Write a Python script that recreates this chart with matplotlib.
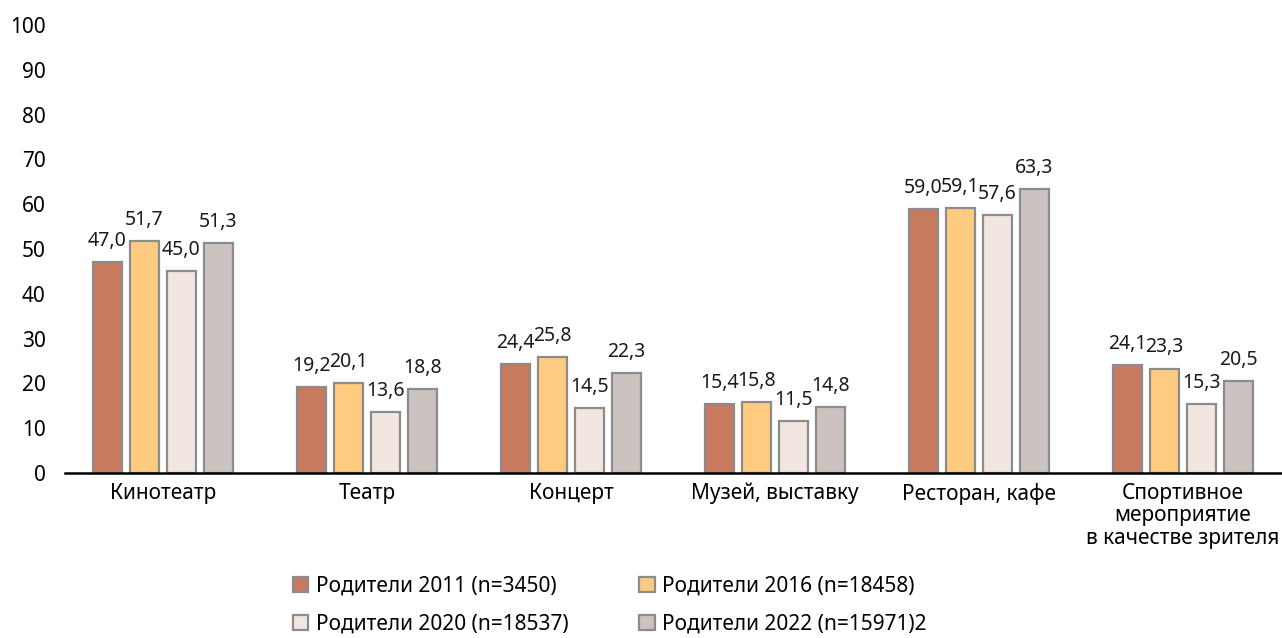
import matplotlib
matplotlib.use("Agg")
import matplotlib.pyplot as plt
import numpy as np

categories = ["Кинотеатр", "Театр", "Концерт", "Музей, выставку", "Ресторан, кафе",
              "Спортивное\nмероприятие\nв качестве зрителя"]
series_names = ["Родители 2011 (n=3450)", "Родители 2016 (n=18458)",
                "Родители 2020 (n=18537)", "Родители 2022 (n=15971)2"]
v2011 = [47.0, 19.2, 24.4, 15.4, 59.0, 24.1]
v2016 = [51.7, 20.1, 25.8, 15.8, 59.1, 23.3]
v2020 = [45.0, 13.6, 14.5, 11.5, 57.6, 15.3]
v2022 = [51.3, 18.8, 22.3, 14.8, 63.3, 20.5]
yticks = [0, 10, 20, 30, 40, 50, 60, 70, 80, 90, 100]

colors = ["#C77A5D", "#FFCB80", "#F2E6E0", "#CCC2C0"]
edge = "#8C8C8C"

plt.rcParams['font.family'] = ['Noto Sans', 'DejaVu Sans']
FS = 15

fig = plt.figure(figsize=(12.82, 6.38), dpi=100)
W, H = 1282, 638
left, right = 65, 1281
y0, y100 = 473, 25
ax = fig.add_axes([left / W, (H - y0) / H, (right - left) / W, (y0 - y100) / H])

x = np.arange(len(categories))
pitch = 0.181
bw = 0.145
data = [v2011, v2016, v2020, v2022]
for i, (vals, c, name) in enumerate(zip(data, colors, series_names)):
    pos = x + (i - 1.5) * pitch
    bars = ax.bar(pos, vals, width=bw, color=c, edgecolor=edge, linewidth=1.6, label=name, zorder=2)
    for b, v in zip(bars, vals):
        ax.text(b.get_x() + b.get_width() / 2, v + 3.6, f"{v:.1f}".replace(".", ","),
                ha="center", va="baseline", fontsize=14, color="#1a1a1a")

ax.set_xlim(-0.48, 5.48)
ax.set_ylim(0, 100)
ax.set_yticks(yticks)
ax.set_yticklabels([str(t) for t in yticks], fontsize=FS)
ax.set_xticks(x)
ax.set_xticklabels(categories, fontsize=FS, linespacing=1.1)
ax.tick_params(axis='y', length=0, pad=14)
ax.tick_params(axis='x', length=0, pad=7)
for s in ["top", "right", "left"]:
    ax.spines[s].set_visible(False)
ax.spines["bottom"].set_linewidth(1.8)
ax.spines["bottom"].set_color("black")

handles, labels = ax.get_legend_handles_labels()
order = [0, 2, 1, 3]
leg = fig.legend([handles[k] for k in order], [labels[k] for k in order], ncol=2,
                 loc="upper left", bbox_to_anchor=(274 / W, 1 - 557 / H), frameon=False,
                 fontsize=FS, handlelength=0.75, handleheight=0.75,
                 handletextpad=0.35, columnspacing=3.4, labelspacing=0.8)

fig.savefig("out.png", dpi=100)
